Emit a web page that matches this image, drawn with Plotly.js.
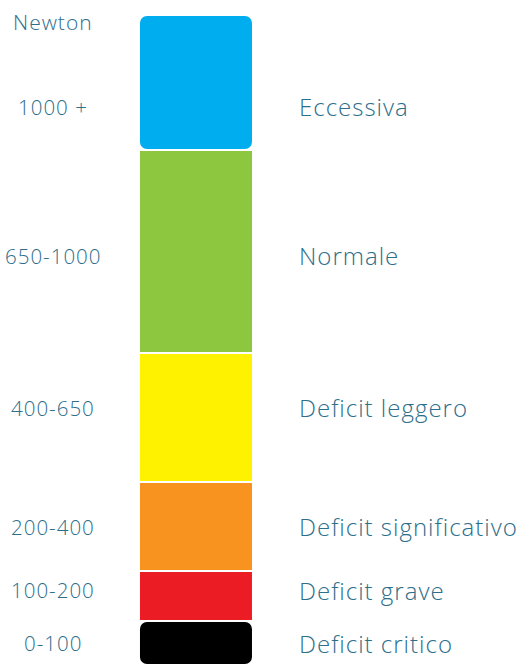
<!DOCTYPE html>
<html>
<head>
<meta charset="utf-8">
<script src="https://cdn.plot.ly/plotly-3.0.1.min.js"></script>
<style>
html,body{margin:0;padding:0;background:#fff;}
#chart{width:521px;height:666px;}
text.annotation-text{letter-spacing:1px;}
</style>
</head>
<body>
<div id="chart"></div>
<script>
// Data (bottom to top)
const ranges = ["0-100", "100-200", "200-400", "400-650", "650-1000", "1000 +"];
const levels = ["Deficit critico", "Deficit grave", "Deficit significativo", "Deficit leggero", "Normale", "Eccessiva"];
const heights = [44, 50, 89, 129, 203, 135];   // drawn segment heights
const colors = ["#000000", "#ec1c24", "#f7931e", "#fff200", "#8dc63f", "#00aeef"];
const unitLabel = "Newton";

// label nudges in px (layout only)
const yShifts = [0, 6, 0, 10, -4, -24];

const textColor = "#2d6e8b";
const fontFam = "'Open Sans', 'Noto Sans', sans-serif";
const traces = [];
const rightAnn = [];
const leftAnn = [];
let base = 0;
for (let i = 0; i < heights.length; i++) {
  const isBottom = i === 0;
  const isTop = i === heights.length - 1;
  traces.push({
    type: "bar",
    x: [0],
    y: [isBottom ? -heights[i] : heights[i]],
    base: [isBottom ? base + heights[i] : base],
    width: [1],
    marker: {
      color: colors[i],
      line: { color: "#ffffff", width: 2 },
      cornerradius: (isBottom || isTop) ? 8 : 0
    },
    hoverinfo: "skip",
    showlegend: false
  });
  const mid = base + heights[i] / 2;
  leftAnn.push({
    x: -1.25, y: mid, xref: "x", yref: "y", text: ranges[i], showarrow: false,
    xanchor: "center", yanchor: "middle", yshift: yShifts[i],
    font: { family: fontFam, size: 20.5, weight: 300, color: textColor }
  });
  rightAnn.push({
    x: 0.89, y: mid, xref: "x", yref: "y", text: levels[i], showarrow: false,
    xanchor: "left", yanchor: "middle", yshift: yShifts[i],
    font: { family: fontFam, size: 24, weight: 300, color: textColor }
  });
  base += heights[i];
}
leftAnn.push({
  x: -1.25, y: base, xref: "x", yref: "y", text: unitLabel, showarrow: false,
  xanchor: "center", yanchor: "middle", yshift: -7,
  font: { family: fontFam, size: 21, weight: 300, color: textColor }
});

const layout = {
  width: 521, height: 666,
  margin: { l: 0, r: 0, t: 15, b: 1, pad: 0 },
  paper_bgcolor: "#ffffff", plot_bgcolor: "#ffffff",
  barmode: "overlay",
  xaxis: { range: [-1.719, 2.851], visible: false, fixedrange: true },
  yaxis: { range: [0, base], visible: false, fixedrange: true },
  annotations: rightAnn.concat(leftAnn),
  showlegend: false
};
Plotly.newPlot("chart", traces, layout, { displayModeBar: false, staticPlot: true });
</script>
</body>
</html>
